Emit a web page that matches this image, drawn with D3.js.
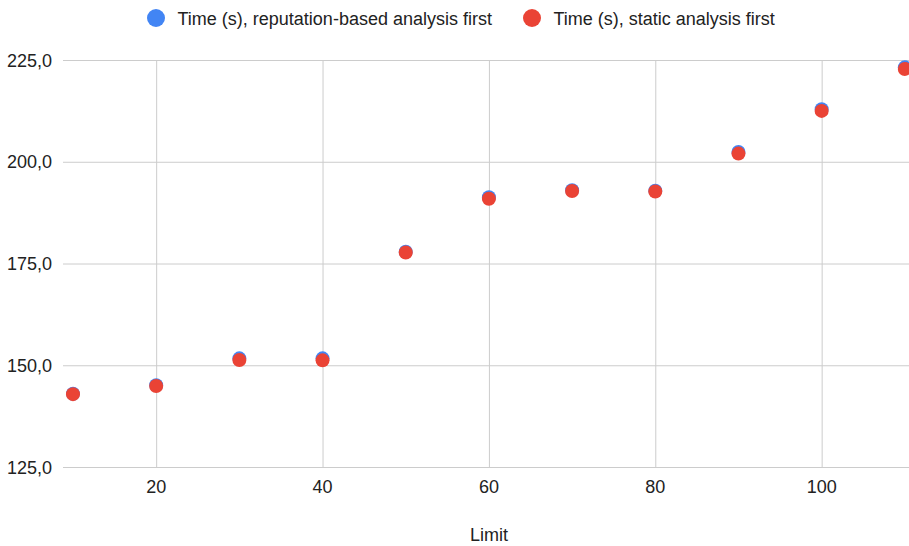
<!DOCTYPE html>
<html>
<head>
<meta charset="utf-8">
<script src="https://cdn.jsdelivr.net/npm/d3@7"></script>
<style>
  body { margin: 0; background: #fff; }
  text { font-family: Arial, "Liberation Sans", sans-serif; fill: #222; }
</style>
</head>
<body>
<div id="chart"></div>
<script>
const limits = [10, 20, 30, 40, 50, 60, 70, 80, 90, 100, 110];
const reputationFirst = [143.0, 145.1, 151.7, 151.7, 177.9, 191.3, 193.0, 192.9, 202.4, 212.9, 223.2];
const staticFirst = [142.9, 144.9, 151.3, 151.2, 177.7, 190.9, 192.8, 192.7, 202.0, 212.5, 222.8];
const xTicks = [20, 40, 60, 80, 100];
const yTicks = [125, 150, 175, 200, 225];
const seriesNames = ['Time (s), reputation-based analysis first', 'Time (s), static analysis first'];
const colors = ['#4285f4', '#ea4335'];

const width = 909, height = 546;
const margin = {top: 60, right: 0, bottom: 79, left: 63};

const x = d3.scaleLinear().domain([8.8, 110.5]).range([margin.left, width - margin.right]);
const y = d3.scaleLinear().domain([125, 225]).range([height - margin.bottom, margin.top]);

const comma = d3.formatLocale({decimal: ',', thousands: '.', grouping: [3], currency: ['', '']}).format('.1f');

const svg = d3.select('#chart').append('svg')
    .attr('width', width)
    .attr('height', height);

// gridlines
svg.append('g')
    .attr('transform', `translate(0,${margin.top})`)
    .call(d3.axisBottom(x).tickValues(xTicks).tickSize(y(125) - margin.top).tickFormat(''))
    .call(g => g.select('.domain').remove())
    .call(g => g.selectAll('line').attr('stroke', '#cccccc'));

svg.append('g')
    .attr('transform', `translate(${margin.left},0)`)
    .call(d3.axisRight(y).tickValues(yTicks).tickSize(width - margin.left).tickFormat(''))
    .call(g => g.select('.domain').remove())
    .call(g => g.selectAll('line').attr('stroke', '#cccccc'));

// tick labels
svg.append('g')
    .selectAll('text')
    .data(xTicks)
    .join('text')
    .attr('x', d => x(d))
    .attr('y', 493)
    .attr('text-anchor', 'middle')
    .attr('font-size', 18)
    .text(d => d);

svg.append('g')
    .selectAll('text')
    .data(yTicks)
    .join('text')
    .attr('x', 52)
    .attr('y', d => y(d) + 6.5)
    .attr('text-anchor', 'end')
    .attr('font-size', 18)
    .text(d => comma(d));

svg.append('text')
    .attr('x', 489)
    .attr('y', 541)
    .attr('text-anchor', 'middle')
    .attr('font-size', 18)
    .text('Limit');

// points
[reputationFirst, staticFirst].forEach((vals, i) => {
    svg.append('g')
        .selectAll('circle')
        .data(vals)
        .join('circle')
        .attr('cx', (d, j) => x(limits[j]))
        .attr('cy', d => y(d))
        .attr('r', 7)
        .attr('fill', colors[i]);
});

// legend
const legendPos = [156, 532];
const legend = svg.append('g');
seriesNames.forEach((name, i) => {
    legend.append('circle')
        .attr('cx', legendPos[i])
        .attr('cy', 18)
        .attr('r', 9)
        .attr('fill', colors[i]);
    legend.append('text')
        .attr('x', legendPos[i] + 21.5)
        .attr('y', 25)
        .attr('font-size', 18)
        .text(name);
});
</script>
</body>
</html>
